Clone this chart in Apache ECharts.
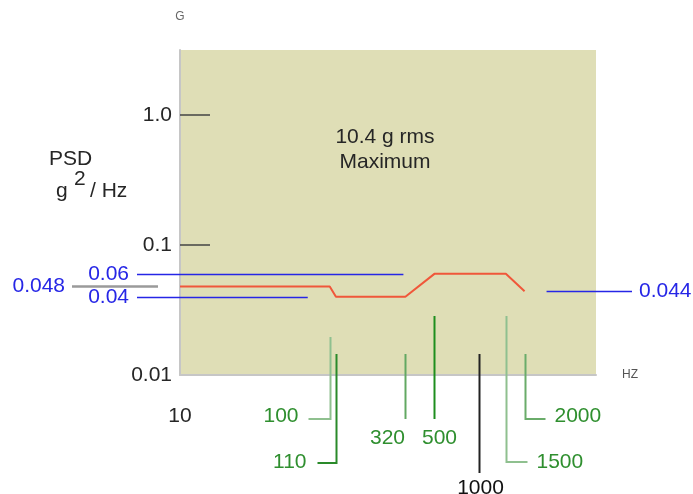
<!DOCTYPE html>
<html><head><meta charset="utf-8">
<script src="https://cdn.jsdelivr.net/npm/echarts@6/dist/echarts.min.js"></script>
<style>html,body{margin:0;padding:0;background:#fff}#c{width:693px;height:494px}</style>
</head><body><div id="c"></div>
<script>
// ---- data ----
const freqs = [10, 100, 110, 320, 500, 1500, 2000];
const psd = [0.048, 0.048, 0.04, 0.04, 0.06, 0.06, 0.044];
const markFreqs = [100, 110, 320, 500, 1000, 1500, 2000];
const markLabels = ['100', '110', '320', '500', '1000', '1500', '2000'];
const levelValues = [0.06, 0.048, 0.04, 0.044];
const levelLabels = ['0.06', '0.048', '0.04', '0.044'];
const yTickValues = [0.01, 0.1, 1];
const yTickLabels = ['0.01', '0.1', '1.0'];
const xTickValues = [10];
const xTickLabels = ['10'];
const noteLines = ['10.4 g rms', 'Maximum'];

// ---- layout / style ----
const FONT = '"Liberation Sans", Arial, sans-serif';
const FS = 21;
const BLUE = '#2626e6';
const GREEN = '#2f8f2f';
const TXT = '#262626';
const markLayout = [
  {top: -38, bottom: 44, stub: -22, lx: -32, ly: 41, align: 'right', color: '#8fc08f', text: GREEN},
  {top: -21, bottom: 88, stub: -19, lx: -30, ly: 87, align: 'right', color: '#2a8a2a', text: GREEN},
  {top: -21, bottom: 44, stub: 0, lx: -18, ly: 63, align: 'center', color: '#62a862', text: GREEN},
  {top: -59, bottom: 44, stub: 0, lx: 5, ly: 63, align: 'center', color: '#1e8e1e', text: GREEN},
  {top: -21, bottom: 98, stub: 0, lx: 1, ly: 113, align: 'center', color: '#222', text: '#111'},
  {top: -59, bottom: 87, stub: 21, lx: 30, ly: 87, align: 'left', color: '#8fc08f', text: GREEN},
  {top: -21, bottom: 44, stub: 20, lx: 29, ly: 41, align: 'left', color: '#6aac6a', text: GREEN}
];
// line start/end: numbers are pixels, {f, d} anchors to a frequency coord + offset
const levelLayout = [
  {x1: 137, x2: {f: 500, d: -31}, lx: 129, align: 'right', color: BLUE, w: 1.5},
  {x1: 72, x2: 158, lx: 65, align: 'right', color: '#9a9a9a', w: 2.5},
  {x1: 137, x2: {f: 100, d: -22}, lx: 129, align: 'right', color: BLUE, w: 1.5},
  {x1: {f: 2000, d: 22}, x2: 632, lx: 639, align: 'left', color: BLUE, w: 1.5}
];

const chart = echarts.init(document.getElementById('c'), null, {renderer: 'canvas'});
const yMin = 0.01;

function px(api, v) {
  if (typeof v === 'number') return v;
  return api.coord([v.f, yMin])[0] + v.d;
}
function lookup(values, labels, v) {
  for (let i = 0; i < values.length; i++) {
    if (Math.abs(Math.log10(v) - Math.log10(values[i])) < 1e-6) return labels[i];
  }
  return '';
}

chart.setOption({
  animation: false,
  backgroundColor: '#fff',
  textStyle: {fontFamily: FONT},
  grid: {left: 180, right: 97, top: 50, bottom: 119, show: true, backgroundColor: '#dfdeb6', borderWidth: 0},
  xAxis: {
    type: 'log', logBase: 10, min: 10, max: 6000,
    name: 'HZ', nameLocation: 'end', nameGap: 26,
    nameTextStyle: {color: '#555', fontSize: 12, fontFamily: FONT, verticalAlign: 'middle'},
    axisLine: {show: true, lineStyle: {color: '#c6c6c6', width: 2}},
    axisTick: {show: false},
    splitLine: {show: false},
    axisLabel: {
      customValues: xTickValues,
      margin: 31, fontSize: FS, color: TXT, fontFamily: FONT,
      formatter: v => lookup(xTickValues, xTickLabels, v)
    }
  },
  yAxis: {
    type: 'log', logBase: 10, min: yMin, max: Math.sqrt(10),
    name: 'G', nameLocation: 'end', nameGap: 27,
    nameTextStyle: {color: '#666', fontSize: 12, fontFamily: FONT, align: 'center'},
    axisLine: {show: true, lineStyle: {color: '#c6c6c6', width: 2}},
    axisTick: {show: true, inside: true, length: 30, customValues: yTickValues.slice(1), lineStyle: {color: '#444', width: 1.5}},
    splitLine: {show: false},
    axisLabel: {
      customValues: yTickValues,
      margin: 8, fontSize: FS, color: TXT, fontFamily: FONT,
      formatter: v => lookup(yTickValues, yTickLabels, v)
    }
  },
  graphic: [
    {type: 'text', left: 49, top: 149, style: {text: 'PSD', fill: TXT, font: FS + 'px ' + FONT}},
    {type: 'text', left: 56, top: 181, style: {text: 'g', fill: TXT, font: FS + 'px ' + FONT}},
    {type: 'text', left: 74, top: 169, style: {text: '2', fill: TXT, font: FS + 'px ' + FONT}},
    {type: 'text', left: 90, top: 181, style: {text: '/ Hz', fill: TXT, font: FS + 'px ' + FONT}},
    {type: 'text', x: 385, y: 137, style: {text: noteLines[0], fill: TXT, font: FS + 'px ' + FONT, align: 'center', verticalAlign: 'middle'}},
    {type: 'text', x: 385, y: 162, style: {text: noteLines[1], fill: TXT, font: FS + 'px ' + FONT, align: 'center', verticalAlign: 'middle'}}
  ],
  series: [
    {
      type: 'line', data: freqs.map((f, i) => [f, psd[i]]), symbol: 'none', z: 5,
      lineStyle: {color: '#f0573a', width: 2}
    },
    {
      type: 'custom', clip: false, z: 4, silent: true,
      data: markFreqs.map(f => [f, yMin]),
      renderItem: (params, api) => {
        const i = params.dataIndex;
        const L = markLayout[i];
        const p = api.coord([api.value(0), api.value(1)]);
        const x = Math.round(p[0]) + 0.5, y0 = p[1];
        const pts = [[x, y0 + L.top], [x, y0 + L.bottom]];
        if (L.stub) pts.push([x + L.stub, y0 + L.bottom]);
        return {type: 'group', children: [
          {type: 'polyline', shape: {points: pts}, style: {stroke: L.color, lineWidth: 2, fill: null}},
          {type: 'text', x: x + L.lx, y: y0 + L.ly, style: {text: markLabels[i], fill: L.text, font: FS + 'px ' + FONT, align: L.align, verticalAlign: 'middle'}}
        ]};
      }
    },
    {
      type: 'custom', clip: false, z: 4, silent: true,
      data: levelValues.map(v => [freqs[0], v]),
      renderItem: (params, api) => {
        const i = params.dataIndex;
        const L = levelLayout[i];
        const y = Math.round(api.coord([api.value(0), api.value(1)])[1]) + 0.5;
        return {type: 'group', children: [
          {type: 'line', shape: {x1: px(api, L.x1), y1: y, x2: px(api, L.x2), y2: y}, style: {stroke: L.color, lineWidth: L.w}},
          {type: 'text', x: L.lx, y: y, style: {text: levelLabels[i], fill: BLUE, font: FS + 'px ' + FONT, align: L.align, verticalAlign: 'middle'}}
        ]};
      }
    }
  ]
});
</script>
</body></html>
